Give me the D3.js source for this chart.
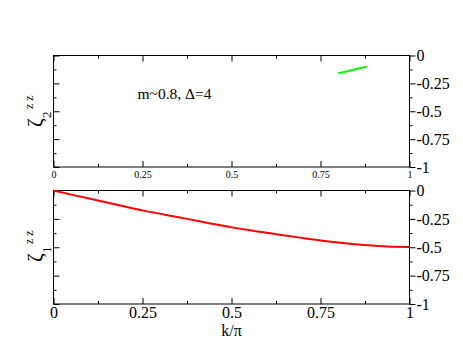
<!DOCTYPE html>
<html><head><meta charset="utf-8">
<script src="https://cdn.jsdelivr.net/npm/d3@7"></script>
<style>html,body{margin:0;padding:0;background:#fff;} svg{display:block;} svg text{font-family:"Liberation Serif","DejaVu Serif",serif;}</style>
</head><body>
<script>
// ---- data ----
const xTicks = [0, 0.25, 0.5, 0.75, 1];
const xTickLabels = ["0", "0.25", "0.5", "0.75", "1"];
const yTicks = [0, -0.25, -0.5, -0.75, -1];
const yTickLabels = ["0", "-0.25", "-0.5", "-0.75", "-1"];
const xMinor = [0.125, 0.375, 0.625, 0.875];
const yMinor = [-0.125, -0.375, -0.625, -0.875];

const kTop = [0.8, 0.84, 0.88];
const zeta2 = [-0.16, -0.13, -0.10];

const kBottom = [0, 0.0625, 0.125, 0.1875, 0.25, 0.3125, 0.375, 0.4375, 0.5, 0.5625, 0.625, 0.6875, 0.75, 0.8125, 0.875, 0.9375, 1];
const zeta1 = [0, -0.045, -0.088, -0.132, -0.175, -0.213, -0.25, -0.288, -0.325, -0.356, -0.385, -0.413, -0.44, -0.462, -0.48, -0.493, -0.497];

const annotation = "m~0.8, \u0394=4";
const xLabel = "k/\u03C0";

// ---- drawing ----
const W = 463, H = 358;
const FONT = "Liberation Serif";
const svg = d3.select("body").append("svg").attr("width", W).attr("height", H)
  .attr("font-family", FONT);

const left = 53.5, right = 409.5;
const x = d3.scaleLinear().domain([0, 1]).range([left, right]);

function panel(top, bottom, opts) {
  const y = d3.scaleLinear().domain([-1, 0]).range([bottom, top]);
  const g = svg.append("g");

  const clean = a => { a.select(".domain").remove(); a.attr("font-family", null).attr("font-size", null); };

  // left inward ticks
  g.append("g").attr("transform", `translate(${left},0)`)
    .call(d3.axisLeft(y).tickValues(yTicks).tickSize(-6).tickFormat("")).call(clean);
  g.append("g").attr("transform", `translate(${left},0)`)
    .call(d3.axisLeft(y).tickValues(yMinor).tickSize(-3).tickFormat("")).call(clean);
  // top inward ticks
  g.append("g").attr("transform", `translate(0,${top})`)
    .call(d3.axisTop(x).tickValues(xTicks).tickSize(-6).tickFormat("")).call(clean);
  g.append("g").attr("transform", `translate(0,${top})`)
    .call(d3.axisTop(x).tickValues(xMinor).tickSize(-3).tickFormat("")).call(clean);
  // bottom inward ticks with labels
  const bx = g.append("g").attr("transform", `translate(0,${bottom})`)
    .call(d3.axisBottom(x).tickValues(xTicks).tickSize(-6).tickFormat((d, i) => xTickLabels[i])).call(clean);
  bx.selectAll("text").attr("y", opts.xLabelOffset).attr("dy", 0)
    .attr("font-size", opts.xFont).attr("fill", "#000");
  g.append("g").attr("transform", `translate(0,${bottom})`)
    .call(d3.axisBottom(x).tickValues(xMinor).tickSize(-3).tickFormat("")).call(clean);
  // right outward ticks with labels
  const ry = g.append("g").attr("transform", `translate(${right},0)`)
    .call(d3.axisRight(y).tickValues(yTicks).tickSize(6).tickPadding(1).tickFormat((d, i) => yTickLabels[i])).call(clean);
  ry.selectAll("text").attr("dy", "0.33em").attr("font-size", 16).attr("fill", "#000");
  g.append("g").attr("transform", `translate(${right},0)`)
    .call(d3.axisRight(y).tickValues(yMinor).tickSize(3).tickFormat("")).call(clean);

  g.selectAll(".tick line").attr("stroke", "#000").attr("stroke-width", 1);

  // frame
  g.append("rect").attr("x", left).attr("y", top)
    .attr("width", right - left).attr("height", bottom - top)
    .attr("fill", "none").attr("stroke", "#000").attr("stroke-width", 1);

  // y label (rotated)
  const lg = g.append("g").attr("transform", `translate(42,${opts.labelY}) rotate(-90)`);
  const t = lg.append("text").attr("fill", "#000");
  t.append("tspan").attr("x", 0).attr("y", 0).attr("font-size", 21).text("\u03B6");
  t.append("tspan").attr("x", 9).attr("y", 9).attr("font-size", 13).text(opts.sub);
  t.append("tspan").attr("x", 18).attr("y", -9).attr("font-size", 12).text("z z");

  return y;
}

const yTop = panel(55.5, 167, {xLabelOffset: 10.5, xFont: 10, sub: "2", labelY: 127});
const yBot = panel(190.5, 304, {xLabelOffset: 13.5, xFont: 16, sub: "1", labelY: 262});

const line = (y) => d3.line().x(d => x(d[0])).y(d => y(d[1])).curve(d3.curveMonotoneX);

svg.append("path").datum(kTop.map((k, i) => [k, zeta2[i]]))
  .attr("d", line(yTop)).attr("fill", "none").attr("stroke", "#00ff00").attr("stroke-width", 2);

svg.append("path").datum(kBottom.map((k, i) => [k, zeta1[i]]))
  .attr("d", line(yBot)).attr("fill", "none").attr("stroke", "#ff0000").attr("stroke-width", 2);

svg.append("text").attr("x", 137.5).attr("y", 98.5)
  .attr("font-size", 15.5).attr("fill", "#000").text(annotation);

svg.append("text").attr("x", (left + right) / 2).attr("y", 336).attr("text-anchor", "middle")
  .attr("font-size", 16).attr("fill", "#000").text(xLabel);
</script>
</body></html>
